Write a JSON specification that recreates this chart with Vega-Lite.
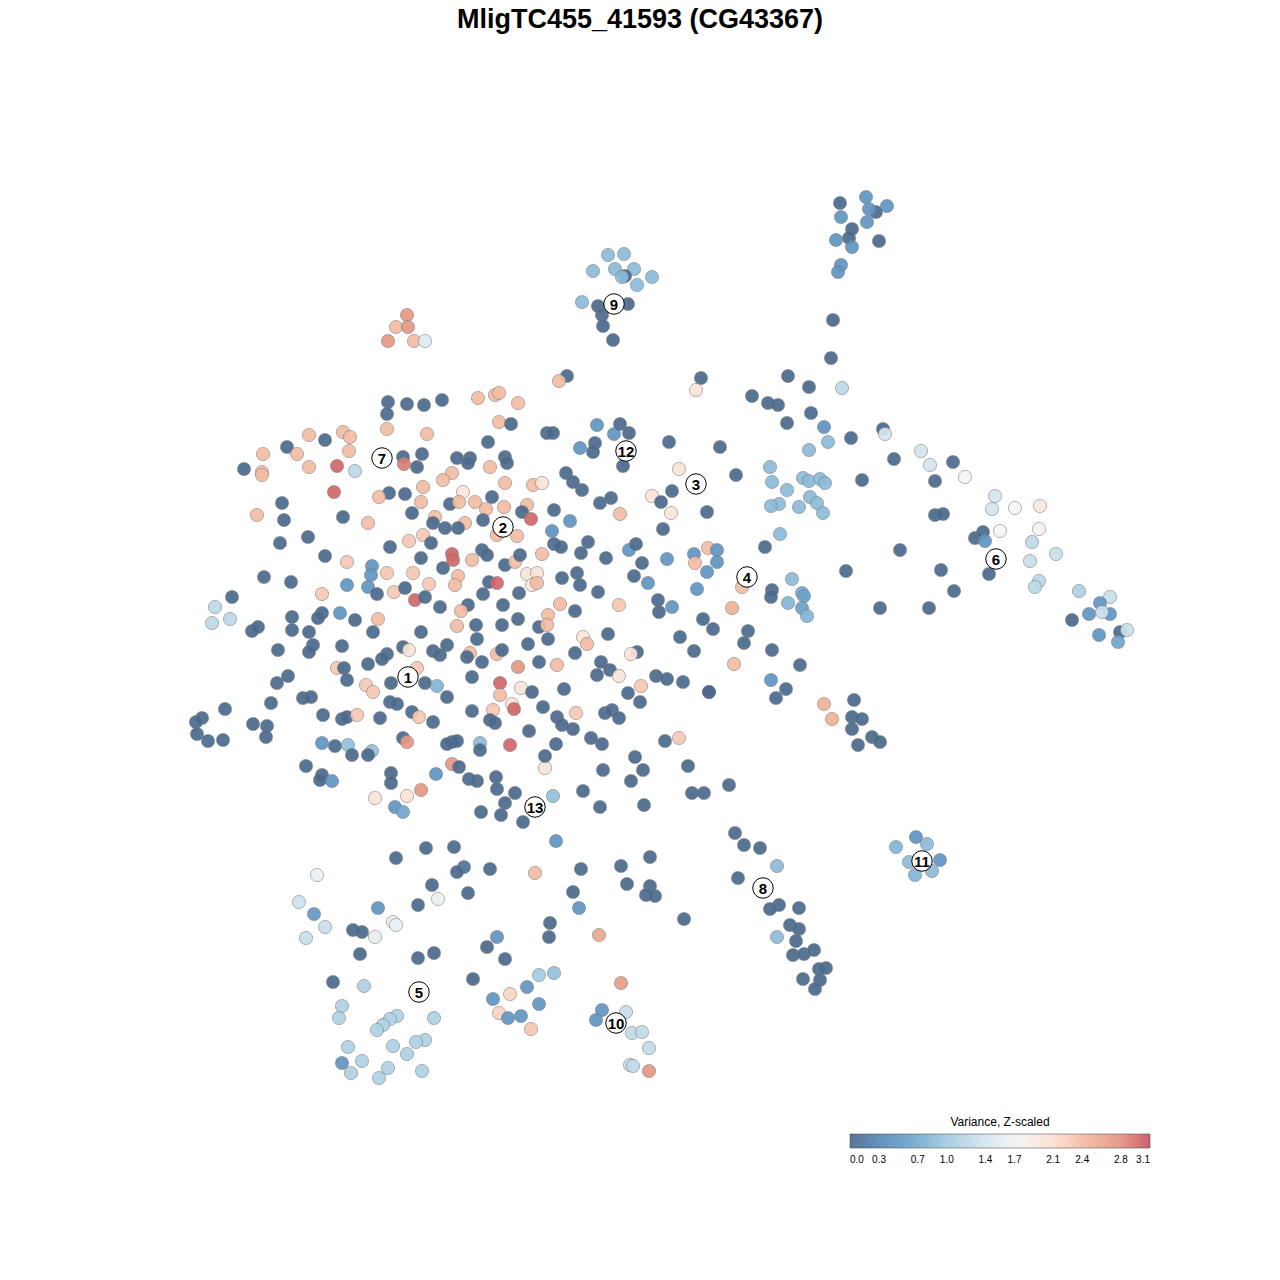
{
"$schema": "https://vega.github.io/schema/vega-lite/v6.json",
"width": 1280, "height": 1240,
"autosize": "none",
"padding": {"top": 40, "left": 0, "right": 0, "bottom": 0},
"background": "white",
"title": {"text": "MligTC455_41593 (CG43367)", "fontSize": 27, "font": "Liberation Sans", "fontWeight": "bold", "anchor": "middle", "offset": 6, "color": "black"},
"config": {"view": {"stroke": null}},
"datasets": {
"cells": [
{"x":840,"y":203,"variance":0},{"x":866,"y":197,"variance":0.45},{"x":841,"y":217,"variance":0.45},{"x":876,"y":212,"variance":0},{"x":869,"y":209,"variance":0.45},{"x":887,"y":206,"variance":0.45},{"x":867,"y":222,"variance":0.45},{"x":852,"y":229,"variance":0},{"x":849,"y":238,"variance":0},{"x":836,"y":240,"variance":0.45},{"x":852,"y":247,"variance":0.45},{"x":879,"y":241,"variance":0},{"x":841,"y":265,"variance":0.45},{"x":838,"y":272,"variance":0.45},
{"x":608,"y":255,"variance":0.85},{"x":624,"y":254,"variance":0.85},{"x":593,"y":271,"variance":0.85},{"x":615,"y":269,"variance":0.85},{"x":634,"y":269,"variance":0.85},{"x":625,"y":276,"variance":0},{"x":622,"y":277,"variance":0.85},{"x":652,"y":277,"variance":0.85},{"x":637,"y":285,"variance":0.85},{"x":582,"y":302,"variance":0.85},{"x":598,"y":306,"variance":0},{"x":628,"y":304,"variance":0},{"x":602,"y":315,"variance":0},{"x":603,"y":326,"variance":0},{"x":613,"y":340,"variance":0},
{"x":407,"y":315,"variance":2.75},{"x":396,"y":327,"variance":2.4},{"x":408,"y":327,"variance":2.75},{"x":388,"y":341,"variance":2.75},{"x":414,"y":341,"variance":2.4},{"x":425,"y":341,"variance":1.5},
{"x":567,"y":376,"variance":0},{"x":559,"y":381,"variance":2.4},{"x":701,"y":378,"variance":0},{"x":833,"y":320,"variance":0},{"x":831,"y":358,"variance":0},
{"x":788,"y":376,"variance":0},{"x":809,"y":387,"variance":0},{"x":842,"y":388,"variance":1.2},{"x":752,"y":396,"variance":0},{"x":768,"y":403,"variance":0},{"x":778,"y":405,"variance":0},{"x":811,"y":413,"variance":0},{"x":787,"y":423,"variance":0},{"x":824,"y":427,"variance":0.45},{"x":828,"y":442,"variance":0.85},{"x":851,"y":438,"variance":0},{"x":883,"y":429,"variance":0},{"x":885,"y":434,"variance":1.4},{"x":809,"y":450,"variance":0.85},{"x":894,"y":459,"variance":0},{"x":921,"y":451,"variance":1.4},{"x":930,"y":465,"variance":1.4},{"x":953,"y":462,"variance":0},{"x":965,"y":477,"variance":1.7},{"x":935,"y":481,"variance":0},{"x":862,"y":480,"variance":0},{"x":736,"y":475,"variance":0},{"x":770,"y":467,"variance":0.85},{"x":772,"y":482,"variance":0.85},{"x":787,"y":490,"variance":0.85},{"x":803,"y":478,"variance":0.85},{"x":809,"y":481,"variance":0.85},{"x":820,"y":479,"variance":0.85},{"x":825,"y":483,"variance":0.85},{"x":810,"y":497,"variance":0.85},{"x":817,"y":503,"variance":0.85},{"x":823,"y":513,"variance":0.85},{"x":799,"y":507,"variance":0.85},{"x":779,"y":504,"variance":0.85},{"x":771,"y":506,"variance":0.85},{"x":780,"y":534,"variance":0.85},{"x":765,"y":547,"variance":0},{"x":900,"y":550,"variance":0},{"x":935,"y":515,"variance":0},{"x":943,"y":514,"variance":0},{"x":995,"y":496,"variance":1.4},{"x":992,"y":509,"variance":1.4},{"x":1015,"y":508,"variance":1.7},{"x":1040,"y":506,"variance":1.95},{"x":1000,"y":531,"variance":1.7},{"x":1039,"y":529,"variance":1.75},{"x":975,"y":538,"variance":0},{"x":983,"y":532,"variance":0},{"x":985,"y":541,"variance":0.45},{"x":989,"y":574,"variance":0},{"x":1032,"y":542,"variance":1.2},{"x":1056,"y":554,"variance":1.3},{"x":1030,"y":561,"variance":1.3},{"x":1039,"y":581,"variance":1.2},{"x":1035,"y":587,"variance":1.2},{"x":1079,"y":591,"variance":1.1},{"x":1110,"y":597,"variance":1.3},{"x":1100,"y":603,"variance":0.45},{"x":1089,"y":614,"variance":0.45},{"x":1110,"y":614,"variance":0.45},{"x":1102,"y":612,"variance":1.3},{"x":1072,"y":620,"variance":0},{"x":1099,"y":635,"variance":0.45},{"x":1120,"y":632,"variance":0},{"x":1127,"y":630,"variance":1.3},{"x":1118,"y":642,"variance":0.65},{"x":941,"y":570,"variance":0},{"x":954,"y":591,"variance":0},{"x":929,"y":608,"variance":0},{"x":880,"y":608,"variance":0},{"x":846,"y":571,"variance":0},{"x":792,"y":579,"variance":0.85},{"x":772,"y":590,"variance":0},{"x":771,"y":597,"variance":0},{"x":802,"y":593,"variance":0.7},{"x":804,"y":596,"variance":0.6},{"x":788,"y":603,"variance":0.8},{"x":802,"y":608,"variance":0.6},{"x":807,"y":616,"variance":0.8},{"x":742,"y":587,"variance":2.4},{"x":748,"y":631,"variance":0},{"x":744,"y":643,"variance":0},{"x":772,"y":650,"variance":0},
{"x":734,"y":664,"variance":2.4},{"x":800,"y":665,"variance":0},{"x":771,"y":680,"variance":0.45},{"x":786,"y":689,"variance":0},{"x":776,"y":698,"variance":0},{"x":709,"y":692,"variance":0},{"x":824,"y":704,"variance":2.5},{"x":832,"y":719,"variance":2.5},{"x":854,"y":700,"variance":0},{"x":852,"y":717,"variance":0},{"x":862,"y":719,"variance":0},{"x":852,"y":729,"variance":0},{"x":872,"y":737,"variance":0},{"x":880,"y":742,"variance":0},{"x":858,"y":745,"variance":0},{"x":729,"y":785,"variance":0},{"x":704,"y":793,"variance":0},{"x":735,"y":833,"variance":0},{"x":744,"y":845,"variance":0},{"x":760,"y":848,"variance":0},{"x":777,"y":866,"variance":0.85},{"x":738,"y":878,"variance":0},{"x":779,"y":905,"variance":0},{"x":770,"y":909,"variance":0},{"x":799,"y":908,"variance":0},{"x":790,"y":925,"variance":0},{"x":799,"y":929,"variance":0},{"x":777,"y":937,"variance":0.85},{"x":796,"y":941,"variance":0},{"x":793,"y":955,"variance":0},{"x":804,"y":954,"variance":0},{"x":814,"y":950,"variance":0},{"x":826,"y":968,"variance":0},{"x":819,"y":969,"variance":0},{"x":820,"y":980,"variance":0},{"x":803,"y":979,"variance":0},{"x":815,"y":989,"variance":0},
{"x":916,"y":837,"variance":0.45},{"x":927,"y":844,"variance":0.85},{"x":896,"y":847,"variance":0.8},{"x":909,"y":862,"variance":0.85},{"x":940,"y":860,"variance":0.45},{"x":932,"y":871,"variance":0.85},{"x":915,"y":875,"variance":0.8},
{"x":306,"y":766,"variance":0},{"x":322,"y":775,"variance":0},{"x":320,"y":780,"variance":0},{"x":332,"y":781,"variance":0.45},{"x":391,"y":773,"variance":0},{"x":391,"y":783,"variance":0},{"x":436,"y":774,"variance":0.45},{"x":452,"y":764,"variance":2.75},{"x":459,"y":767,"variance":0},{"x":469,"y":779,"variance":0},{"x":477,"y":781,"variance":0},{"x":496,"y":777,"variance":0},{"x":497,"y":789,"variance":0},{"x":515,"y":793,"variance":0},{"x":505,"y":803,"variance":0},{"x":481,"y":812,"variance":0},{"x":501,"y":815,"variance":0},{"x":523,"y":822,"variance":0},{"x":545,"y":768,"variance":2.05},{"x":553,"y":796,"variance":0.9},{"x":375,"y":798,"variance":2.05},{"x":407,"y":796,"variance":2.1},{"x":421,"y":790,"variance":2.75},{"x":395,"y":807,"variance":0.45},{"x":403,"y":812,"variance":0.65},{"x":556,"y":841,"variance":0.45},{"x":426,"y":848,"variance":0},{"x":454,"y":847,"variance":0},{"x":396,"y":858,"variance":0},{"x":464,"y":867,"variance":0.1},{"x":457,"y":872,"variance":0},{"x":490,"y":869,"variance":0},{"x":535,"y":873,"variance":2.4},{"x":317,"y":875,"variance":1.6},{"x":432,"y":885,"variance":0},{"x":468,"y":893,"variance":0},{"x":438,"y":899,"variance":1.6},{"x":418,"y":905,"variance":0},{"x":299,"y":902,"variance":1.35},{"x":314,"y":914,"variance":0.5},{"x":378,"y":908,"variance":0.45},{"x":325,"y":927,"variance":1.3},{"x":306,"y":938,"variance":1.3},{"x":353,"y":930,"variance":0},{"x":362,"y":932,"variance":0},{"x":375,"y":937,"variance":1.6},{"x":393,"y":922,"variance":1.6},{"x":396,"y":925,"variance":1.6},{"x":360,"y":954,"variance":0},{"x":418,"y":958,"variance":0},{"x":434,"y":953,"variance":0},{"x":487,"y":947,"variance":0},{"x":497,"y":937,"variance":0.45},{"x":505,"y":959,"variance":0},{"x":550,"y":923,"variance":0},{"x":549,"y":937,"variance":0},{"x":333,"y":982,"variance":0},{"x":364,"y":986,"variance":1.1},{"x":473,"y":979,"variance":0},{"x":539,"y":975,"variance":1.0},{"x":554,"y":973,"variance":0.9},{"x":527,"y":987,"variance":0.45},{"x":510,"y":994,"variance":2.2},{"x":493,"y":999,"variance":0.45},{"x":539,"y":1004,"variance":0.45},{"x":499,"y":1013,"variance":2.2},{"x":508,"y":1018,"variance":0.45},{"x":521,"y":1016,"variance":0.45},{"x":531,"y":1029,"variance":2.3},{"x":342,"y":1006,"variance":1.1},{"x":339,"y":1018,"variance":1.1},{"x":434,"y":1018,"variance":1.1},{"x":397,"y":1016,"variance":1.1},{"x":390,"y":1019,"variance":1.1},{"x":383,"y":1025,"variance":1.1},{"x":377,"y":1030,"variance":1.1},{"x":425,"y":1040,"variance":1.1},{"x":416,"y":1042,"variance":1.1},{"x":393,"y":1046,"variance":1.1},{"x":348,"y":1047,"variance":1.1},{"x":407,"y":1054,"variance":1.1},{"x":362,"y":1061,"variance":1.1},{"x":342,"y":1063,"variance":0.45},{"x":351,"y":1073,"variance":1.1},{"x":388,"y":1068,"variance":1.1},{"x":379,"y":1078,"variance":1.1},{"x":422,"y":1071,"variance":1.1},
{"x":603,"y":770,"variance":0},{"x":643,"y":770,"variance":0},{"x":688,"y":766,"variance":0},{"x":631,"y":781,"variance":0},{"x":583,"y":791,"variance":0},{"x":600,"y":807,"variance":0},{"x":644,"y":805,"variance":0},{"x":692,"y":793,"variance":0},{"x":581,"y":869,"variance":0},{"x":621,"y":866,"variance":0},{"x":650,"y":857,"variance":0},{"x":627,"y":884,"variance":0},{"x":650,"y":886,"variance":0},{"x":646,"y":895,"variance":0},{"x":655,"y":896,"variance":0},{"x":573,"y":892,"variance":0},{"x":579,"y":908,"variance":0.45},{"x":684,"y":919,"variance":0},{"x":599,"y":935,"variance":2.6},{"x":621,"y":983,"variance":2.7},{"x":602,"y":1010,"variance":0.45},{"x":596,"y":1020,"variance":0.45},{"x":626,"y":1012,"variance":1.3},{"x":632,"y":1033,"variance":1.25},{"x":642,"y":1032,"variance":1.25},{"x":649,"y":1048,"variance":1.25},{"x":630,"y":1065,"variance":1.3},{"x":633,"y":1066,"variance":1.25},{"x":649,"y":1071,"variance":2.75},
{"x":388,"y":402,"variance":0},{"x":387,"y":414,"variance":0},{"x":407,"y":404,"variance":0},{"x":424,"y":405,"variance":0},{"x":387,"y":429,"variance":2.4},{"x":427,"y":434,"variance":2.4},{"x":309,"y":435,"variance":2.4},{"x":325,"y":440,"variance":0},{"x":343,"y":432,"variance":2.4},{"x":350,"y":437,"variance":2.4},{"x":263,"y":454,"variance":2.4},{"x":287,"y":447,"variance":0},{"x":297,"y":454,"variance":2.4},{"x":349,"y":451,"variance":2.4},{"x":309,"y":467,"variance":2.4},{"x":337,"y":466,"variance":3.0},{"x":355,"y":471,"variance":1.2},{"x":403,"y":457,"variance":0},{"x":422,"y":454,"variance":0},{"x":417,"y":467,"variance":0},{"x":404,"y":464,"variance":2.9},{"x":244,"y":469,"variance":0},{"x":262,"y":472,"variance":2.4},{"x":262,"y":475,"variance":2.4},{"x":334,"y":492,"variance":3.0},{"x":389,"y":493,"variance":0},{"x":379,"y":497,"variance":2.4},{"x":405,"y":494,"variance":0},{"x":423,"y":487,"variance":2.4},{"x":421,"y":502,"variance":2.4},{"x":282,"y":503,"variance":0},{"x":257,"y":515,"variance":2.4},{"x":284,"y":520,"variance":0},{"x":343,"y":517,"variance":0},{"x":368,"y":523,"variance":2.4},{"x":412,"y":513,"variance":0},{"x":435,"y":517,"variance":2.4},{"x":433,"y":523,"variance":0},{"x":280,"y":543,"variance":0},{"x":308,"y":537,"variance":0},{"x":390,"y":547,"variance":0},{"x":325,"y":556,"variance":0},{"x":421,"y":558,"variance":0},{"x":409,"y":541,"variance":2.3},{"x":423,"y":535,"variance":2.3},{"x":431,"y":543,"variance":0},{"x":347,"y":562,"variance":2.3},{"x":372,"y":566,"variance":0.45},
{"x":442,"y":400,"variance":0},{"x":478,"y":398,"variance":2.4},{"x":495,"y":395,"variance":2.4},{"x":499,"y":393,"variance":2.4},{"x":518,"y":403,"variance":2.4},{"x":499,"y":422,"variance":2.4},{"x":511,"y":424,"variance":0},{"x":547,"y":433,"variance":0},{"x":553,"y":433,"variance":0},{"x":488,"y":442,"variance":0},{"x":457,"y":458,"variance":0},{"x":470,"y":458,"variance":0},{"x":468,"y":463,"variance":0},{"x":505,"y":457,"variance":0},{"x":507,"y":463,"variance":0},{"x":490,"y":467,"variance":2.4},{"x":452,"y":473,"variance":2.4},{"x":443,"y":480,"variance":2.4},{"x":463,"y":492,"variance":2.05},{"x":450,"y":504,"variance":0},{"x":459,"y":502,"variance":2.4},{"x":492,"y":497,"variance":0},{"x":475,"y":502,"variance":2.4},{"x":486,"y":509,"variance":2.4},{"x":505,"y":483,"variance":2.4},{"x":504,"y":507,"variance":2.4},{"x":533,"y":485,"variance":2.4},{"x":542,"y":483,"variance":2.05},{"x":527,"y":505,"variance":2.4},{"x":522,"y":512,"variance":0},{"x":531,"y":519,"variance":3.0},{"x":483,"y":520,"variance":0},{"x":465,"y":523,"variance":2.4},{"x":458,"y":528,"variance":0},{"x":445,"y":528,"variance":0},{"x":497,"y":535,"variance":2.4},{"x":517,"y":536,"variance":2.4},{"x":554,"y":510,"variance":0},{"x":570,"y":521,"variance":0.45},{"x":552,"y":531,"variance":0.45},{"x":566,"y":473,"variance":0},{"x":573,"y":482,"variance":0},{"x":582,"y":490,"variance":0},{"x":600,"y":503,"variance":0},{"x":611,"y":498,"variance":0},{"x":620,"y":514,"variance":2.4},{"x":597,"y":425,"variance":0.45},{"x":614,"y":434,"variance":0.45},{"x":620,"y":424,"variance":0},{"x":629,"y":433,"variance":0},{"x":580,"y":448,"variance":0.45},{"x":595,"y":443,"variance":0},{"x":593,"y":452,"variance":0},{"x":623,"y":466,"variance":0},{"x":669,"y":442,"variance":0},{"x":720,"y":447,"variance":0},{"x":696,"y":390,"variance":2.05},{"x":679,"y":469,"variance":2.05},{"x":672,"y":491,"variance":0},{"x":652,"y":496,"variance":2.05},{"x":661,"y":502,"variance":0},{"x":671,"y":513,"variance":2.05},{"x":707,"y":512,"variance":0},{"x":663,"y":529,"variance":0},{"x":482,"y":550,"variance":0},{"x":487,"y":555,"variance":0},{"x":472,"y":560,"variance":2.4},{"x":452,"y":554,"variance":3.0},{"x":453,"y":560,"variance":3.0},{"x":505,"y":565,"variance":0},{"x":515,"y":562,"variance":2.4},{"x":520,"y":555,"variance":0},{"x":542,"y":554,"variance":2.4},{"x":554,"y":544,"variance":0},{"x":561,"y":547,"variance":0},{"x":588,"y":542,"variance":0},{"x":581,"y":553,"variance":0},{"x":606,"y":558,"variance":0},{"x":629,"y":550,"variance":0.45},{"x":636,"y":544,"variance":0},{"x":642,"y":563,"variance":0},{"x":667,"y":559,"variance":0.45},{"x":694,"y":554,"variance":0.45},{"x":708,"y":548,"variance":2.4},{"x":717,"y":550,"variance":0.45},{"x":695,"y":563,"variance":2.4},{"x":717,"y":562,"variance":0.45},{"x":443,"y":568,"variance":0},
{"x":264,"y":577,"variance":0},{"x":291,"y":582,"variance":0},{"x":232,"y":597,"variance":0},{"x":215,"y":607,"variance":1.2},{"x":212,"y":623,"variance":1.2},{"x":230,"y":619,"variance":1.2},{"x":252,"y":631,"variance":0},{"x":258,"y":627,"variance":0},{"x":278,"y":650,"variance":0},{"x":292,"y":617,"variance":0},{"x":292,"y":630,"variance":0},{"x":309,"y":632,"variance":0},{"x":313,"y":645,"variance":0},{"x":309,"y":652,"variance":0},{"x":288,"y":676,"variance":0},{"x":277,"y":683,"variance":0},{"x":271,"y":703,"variance":0},{"x":225,"y":709,"variance":0},{"x":202,"y":718,"variance":0},{"x":196,"y":722,"variance":0},{"x":197,"y":734,"variance":0},{"x":208,"y":741,"variance":0},{"x":223,"y":740,"variance":0},{"x":253,"y":724,"variance":0},{"x":267,"y":726,"variance":0},{"x":266,"y":737,"variance":0},{"x":303,"y":698,"variance":0},{"x":311,"y":697,"variance":0},{"x":323,"y":715,"variance":0},{"x":342,"y":719,"variance":0},{"x":347,"y":717,"variance":0},{"x":357,"y":715,"variance":2.3},{"x":380,"y":718,"variance":0},{"x":322,"y":594,"variance":2.3},{"x":347,"y":585,"variance":0.45},{"x":368,"y":587,"variance":0.45},{"x":371,"y":575,"variance":0.45},{"x":387,"y":573,"variance":2.3},{"x":377,"y":594,"variance":0},{"x":394,"y":592,"variance":2.3},{"x":405,"y":588,"variance":0},{"x":415,"y":600,"variance":3.0},{"x":425,"y":597,"variance":0},{"x":429,"y":584,"variance":2.3},{"x":413,"y":573,"variance":2.3},{"x":340,"y":613,"variance":0.45},{"x":322,"y":613,"variance":0},{"x":318,"y":618,"variance":0},{"x":355,"y":620,"variance":0},{"x":378,"y":619,"variance":2.4},{"x":373,"y":632,"variance":0},{"x":342,"y":646,"variance":0},{"x":368,"y":664,"variance":0},{"x":387,"y":654,"variance":0},{"x":382,"y":659,"variance":0},{"x":403,"y":647,"variance":0},{"x":409,"y":650,"variance":2.05},{"x":421,"y":632,"variance":0},{"x":433,"y":651,"variance":0},{"x":337,"y":668,"variance":2.3},{"x":344,"y":668,"variance":0},{"x":347,"y":680,"variance":0},{"x":366,"y":685,"variance":2.3},{"x":373,"y":692,"variance":2.3},{"x":391,"y":683,"variance":0},{"x":417,"y":668,"variance":2.3},{"x":425,"y":683,"variance":0},{"x":437,"y":686,"variance":0.8},{"x":390,"y":702,"variance":0},{"x":397,"y":704,"variance":0},{"x":412,"y":712,"variance":0},{"x":419,"y":717,"variance":2.3},{"x":433,"y":722,"variance":0},{"x":403,"y":738,"variance":0},{"x":407,"y":742,"variance":2.75},{"x":322,"y":743,"variance":0.45},{"x":335,"y":746,"variance":0},{"x":348,"y":745,"variance":0.9},{"x":352,"y":755,"variance":0},{"x":372,"y":751,"variance":0.9},{"x":368,"y":755,"variance":0},{"x":472,"y":677,"variance":0},
{"x":458,"y":576,"variance":2.4},{"x":455,"y":585,"variance":2.4},{"x":489,"y":582,"variance":0},{"x":497,"y":583,"variance":3.0},{"x":527,"y":574,"variance":2.05},{"x":537,"y":573,"variance":2.05},{"x":532,"y":585,"variance":2.05},{"x":537,"y":583,"variance":2.4},{"x":562,"y":578,"variance":0},{"x":577,"y":573,"variance":0},{"x":580,"y":585,"variance":0},{"x":598,"y":592,"variance":0},{"x":634,"y":576,"variance":0},{"x":648,"y":583,"variance":0.45},{"x":707,"y":572,"variance":0.45},{"x":697,"y":589,"variance":0.45},{"x":483,"y":594,"variance":0},{"x":468,"y":605,"variance":0},{"x":519,"y":593,"variance":0},{"x":461,"y":611,"variance":2.4},{"x":503,"y":605,"variance":0},{"x":440,"y":607,"variance":0},{"x":476,"y":625,"variance":0},{"x":457,"y":626,"variance":2.4},{"x":502,"y":625,"variance":0},{"x":518,"y":619,"variance":0},{"x":539,"y":627,"variance":0},{"x":548,"y":615,"variance":2.4},{"x":560,"y":604,"variance":2.4},{"x":547,"y":625,"variance":2.4},{"x":575,"y":611,"variance":0},{"x":619,"y":605,"variance":2.3},{"x":658,"y":600,"variance":0},{"x":659,"y":612,"variance":0},{"x":672,"y":607,"variance":0.45},{"x":447,"y":645,"variance":0},{"x":440,"y":655,"variance":0},{"x":477,"y":639,"variance":0},{"x":470,"y":653,"variance":2.4},{"x":467,"y":657,"variance":0},{"x":482,"y":662,"variance":0},{"x":497,"y":654,"variance":2.4},{"x":502,"y":650,"variance":0},{"x":528,"y":644,"variance":0},{"x":548,"y":639,"variance":0},{"x":575,"y":653,"variance":0},{"x":583,"y":637,"variance":2.05},{"x":587,"y":644,"variance":2.4},{"x":608,"y":634,"variance":0},{"x":637,"y":652,"variance":0},{"x":631,"y":654,"variance":2.05},{"x":680,"y":637,"variance":0},{"x":694,"y":651,"variance":0},{"x":703,"y":619,"variance":0},{"x":713,"y":629,"variance":0},{"x":732,"y":608,"variance":2.5},{"x":518,"y":667,"variance":2.75},{"x":539,"y":662,"variance":0},{"x":557,"y":665,"variance":2.4},{"x":601,"y":662,"variance":0},{"x":610,"y":670,"variance":0},{"x":597,"y":675,"variance":0},{"x":619,"y":676,"variance":2.05},{"x":641,"y":686,"variance":2.3},{"x":628,"y":693,"variance":0},{"x":640,"y":702,"variance":0},{"x":656,"y":676,"variance":0},{"x":667,"y":679,"variance":0},{"x":683,"y":682,"variance":0},{"x":709,"y":692,"variance":0},{"x":500,"y":683,"variance":3.0},{"x":500,"y":695,"variance":2.4},{"x":521,"y":688,"variance":2.05},{"x":532,"y":692,"variance":0},{"x":564,"y":689,"variance":0},{"x":512,"y":704,"variance":2.05},{"x":514,"y":709,"variance":3.0},{"x":493,"y":710,"variance":2.3},{"x":472,"y":711,"variance":0},{"x":543,"y":707,"variance":0},{"x":557,"y":717,"variance":0},{"x":562,"y":725,"variance":0},{"x":573,"y":729,"variance":0},{"x":576,"y":713,"variance":2.3},{"x":605,"y":713,"variance":0},{"x":612,"y":710,"variance":0},{"x":619,"y":718,"variance":0},{"x":591,"y":738,"variance":0},{"x":602,"y":744,"variance":0},{"x":665,"y":741,"variance":0},{"x":679,"y":738,"variance":2.3},{"x":490,"y":720,"variance":0},{"x":495,"y":723,"variance":0},{"x":529,"y":731,"variance":0},{"x":510,"y":745,"variance":3.0},{"x":480,"y":743,"variance":0.85},{"x":480,"y":750,"variance":0},{"x":452,"y":742,"variance":0},{"x":457,"y":741,"variance":0},{"x":447,"y":744,"variance":0},{"x":447,"y":697,"variance":0},{"x":545,"y":756,"variance":0},{"x":556,"y":744,"variance":0},{"x":635,"y":757,"variance":0}
],
"clusters": [
{"x":408,"y":677,"cluster":"1"},{"x":503,"y":527,"cluster":"2"},{"x":696,"y":484,"cluster":"3"},{"x":747,"y":577,"cluster":"4"},{"x":419,"y":992,"cluster":"5"},{"x":996,"y":559,"cluster":"6"},{"x":382,"y":458,"cluster":"7"},{"x":763,"y":888,"cluster":"8"},{"x":614,"y":304,"cluster":"9"},{"x":616,"y":1023,"cluster":"10"},{"x":922,"y":861,"cluster":"11"},{"x":626,"y":451,"cluster":"12"},{"x":535,"y":807,"cluster":"13"}
]
},
"layer": [
{
"data": {"name": "cells"},
"mark": {"type": "circle", "size": 175, "stroke": "#7a7a7a", "strokeWidth": 0.6, "opacity": 0.92},
"encoding": {
"x": {"field": "x", "type": "quantitative", "scale": {"domain": [0, 1280], "nice": false, "zero": false}, "axis": null},
"y": {"field": "y", "type": "quantitative", "scale": {"domain": [40, 1280], "reverse": true, "nice": false, "zero": false}, "axis": null},
"color": {"field": "variance", "type": "quantitative",
"scale": {"domain": [0, 0.3, 0.7, 1.0, 1.4, 1.7, 2.1, 2.4, 2.8, 3.1], "range": ["#4a6a8e", "#5688bb", "#74abd1", "#a3cbe0", "#d4e6ef", "#f5f5f5", "#fbe1d4", "#f4bca3", "#e4937f", "#c65264"], "clamp": true},
"legend": {"title": "Variance, Z-scaled", "orient": "none", "legendX": 850, "legendY": 1077, "direction": "horizontal", "gradientLength": 300, "gradientThickness": 14, "gradientStrokeColor": "#333", "gradientStrokeWidth": 0.5, "values": [0, 0.3, 0.7, 1.0, 1.4, 1.7, 2.1, 2.4, 2.8, 3.1], "format": ".1f", "labelFontSize": 10, "labelFont": "Liberation Sans", "labelOverlap": false, "labelAlign": "center", "labelOffset": 7, "labelColor": "black", "titleFontSize": 12, "titleFont": "Liberation Sans", "titleFontWeight": "normal", "titleColor": "black", "titleAnchor": "middle", "titlePadding": 5}
}
}
},
{
"data": {"name": "clusters"},
"mark": {"type": "circle", "size": 420, "fill": "white", "stroke": "black", "strokeWidth": 1, "opacity": 1},
"encoding": {
"x": {"field": "x", "type": "quantitative"},
"y": {"field": "y", "type": "quantitative"}
}
},
{
"data": {"name": "clusters"},
"mark": {"type": "text", "fontSize": 15, "fontWeight": "bold", "font": "Liberation Sans", "baseline": "middle", "align": "center", "dy": 1, "color": "black"},
"encoding": {
"x": {"field": "x", "type": "quantitative"},
"y": {"field": "y", "type": "quantitative"},
"text": {"field": "cluster", "type": "nominal"}
}
}
]
}
